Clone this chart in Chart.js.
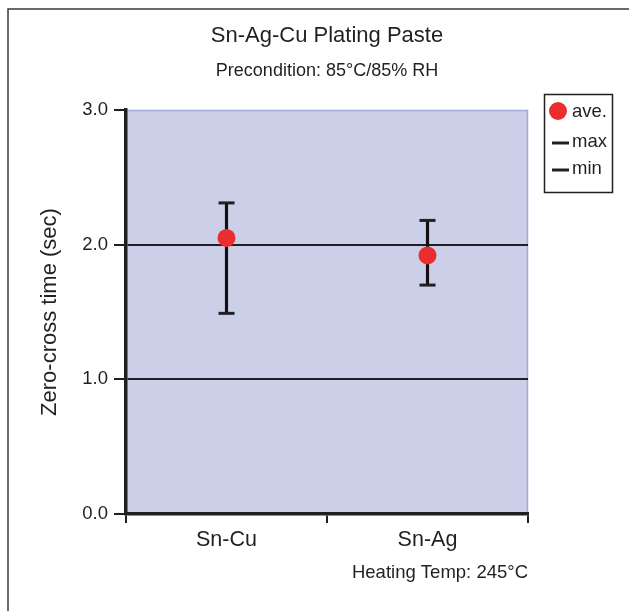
<!DOCTYPE html>
<html>
<head>
<meta charset="utf-8">
<script src="https://cdn.jsdelivr.net/npm/chart.js@4/dist/chart.umd.min.js"></script>
<style>
  html, body { margin: 0; padding: 0; background: #ffffff; }
  #wrap { width: 629px; height: 611px; position: relative; }
</style>
</head>
<body>
<div id="wrap"><canvas id="c" width="629" height="611"></canvas></div>
<script>
// ---- data ----
const categories = ['Sn-Cu', 'Sn-Ag'];
const aveValues = [2.05, 1.92];
const maxValues = [2.31, 2.18];
const minValues = [1.49, 1.70];
const yTickLabels = ['0.0', '1.0', '2.0', '3.0'];
const titleText = 'Sn-Ag-Cu Plating Paste';
const subtitleText = 'Precondition: 85\u00B0C/85% RH';
const yAxisTitle = 'Zero-cross time (sec)';
const xAxisNote = 'Heating Temp: 245\u00B0C';
const legendLabels = ['ave.', 'max', 'min'];

const FONT = "'Liberation Sans', Arial, Helvetica, sans-serif";
const INK = '#231f20';
const RED = '#ec2d30';

const rangeData = categories.map((c, i) => [minValues[i], maxValues[i]]);

const frameAndBg = {
  id: 'frameAndBg',
  beforeDraw(chart) {
    const { ctx, chartArea: a } = chart;
    ctx.save();
    ctx.fillStyle = '#ffffff';
    ctx.fillRect(0, 0, chart.width, chart.height);
    // outer frame (left + top visible)
    ctx.strokeStyle = '#3a3a3a';
    ctx.lineWidth = 1.5;
    ctx.beginPath();
    ctx.moveTo(8, chart.height + 2);
    ctx.lineTo(8, 9);
    ctx.lineTo(chart.width + 2, 9);
    ctx.stroke();
    // plot background
    ctx.fillStyle = '#cbcfe8';
    ctx.fillRect(a.left, a.top, a.right - a.left, a.bottom - a.top);
    ctx.strokeStyle = '#a2a9da';
    ctx.lineWidth = 1.5;
    ctx.beginPath();
    ctx.moveTo(a.left, a.top + 0.5);
    ctx.lineTo(a.right - 0.5, a.top + 0.5);
    ctx.lineTo(a.right - 0.5, a.bottom);
    ctx.stroke();
    ctx.restore();
  }
};

const boxLegend = {
  id: 'boxLegend',
  afterDraw(chart) {
    const { ctx, chartArea: a } = chart;
    const ds = chart.data.datasets;
    const x0 = a.right + 16, y0 = a.top - 16, w = 68, h = 98;
    ctx.save();
    ctx.fillStyle = '#ffffff';
    ctx.fillRect(x0, y0, w, h);
    ctx.strokeStyle = INK;
    ctx.lineWidth = 1.5;
    ctx.strokeRect(x0 + 0.5, y0 + 0.5, w, h);
    ctx.font = '18.5px ' + FONT;
    ctx.fillStyle = INK;
    ctx.textAlign = 'left';
    ctx.textBaseline = 'alphabetic';
    // ave.
    ctx.fillStyle = ds[0].backgroundColor;
    ctx.beginPath();
    ctx.arc(x0 + 14, y0 + 17, 9, 0, Math.PI * 2);
    ctx.fill();
    ctx.fillStyle = INK;
    ctx.fillText(legendLabels[0], x0 + 28, y0 + 23);
    // max / min dashes
    [[ds[2], 49, legendLabels[1]], [ds[3], 76, legendLabels[2]]].forEach(([d, yy, lab]) => {
      ctx.strokeStyle = d.borderColor;
      ctx.lineWidth = 3;
      ctx.beginPath();
      ctx.moveTo(x0 + 8, y0 + yy);
      ctx.lineTo(x0 + 25, y0 + yy);
      ctx.stroke();
      ctx.fillText(lab, x0 + 28, y0 + yy + 4);
    });
    ctx.restore();
  }
};

new Chart(document.getElementById('c'), {
  data: {
    labels: categories,
    datasets: [
      {
        type: 'line', label: legendLabels[0], data: aveValues, showLine: false,
        pointRadius: 9, pointHoverRadius: 9, pointBorderWidth: 0,
        backgroundColor: RED, borderColor: RED, order: 0
      },
      {
        type: 'bar', label: 'range', data: rangeData, barThickness: 2.5,
        backgroundColor: '#111111', borderWidth: 0, order: 3
      },
      {
        type: 'line', label: legendLabels[1], data: maxValues, showLine: false,
        pointStyle: 'line', pointRadius: 8, pointHoverRadius: 8, pointBorderWidth: 3,
        borderColor: INK, backgroundColor: INK, order: 1
      },
      {
        type: 'line', label: legendLabels[2], data: minValues, showLine: false,
        pointStyle: 'line', pointRadius: 8, pointHoverRadius: 8, pointBorderWidth: 3,
        borderColor: INK, backgroundColor: INK, order: 1
      }
    ]
  },
  options: {
    responsive: false,
    animation: false,
    events: [],
    layout: { padding: { top: 0, left: 0, right: 101, bottom: 0 } },
    plugins: {
      legend: { display: false },
      tooltip: { enabled: false },
      title: {
        display: true, text: titleText, fullSize: false, color: INK,
        font: { family: FONT, size: 22, weight: 'normal' },
        padding: { top: 22.8, bottom: 0 }
      },
      subtitle: {
        display: true, text: subtitleText, fullSize: false, color: INK,
        font: { family: FONT, size: 18, weight: 'normal' },
        padding: { top: 11, bottom: 28.2 }
      }
    },
    scales: {
      x: {
        type: 'category',
        offset: true,
        grid: {
          offset: true, drawOnChartArea: false, color: INK, tickColor: INK,
          lineWidth: 2, tickLength: 9
        },
        border: { display: true, color: INK, width: 3.5 },
        ticks: { color: INK, padding: 4, font: { family: FONT, size: 21.5 } },
        title: {
          display: true, text: xAxisNote, align: 'end', color: INK,
          font: { family: FONT, size: 18.5 }, padding: { top: 9, bottom: 27 }
        },
        afterFit(scale) { scale.height = 97; }
      },
      y: {
        type: 'linear', min: 0, max: 3,
        grid: {
          color: (c) => (c.tick && (c.tick.value === 1 || c.tick.value === 2)) ? INK : 'rgba(0,0,0,0)',
          tickColor: INK, lineWidth: 2, tickLength: 12
        },
        border: { display: true, color: INK, width: 3.5 },
        ticks: {
          stepSize: 1, color: INK, padding: 6,
          font: { family: FONT, size: 18.5 },
          callback: (v) => yTickLabels[Math.round(v)]
        },
        title: {
          display: true, text: yAxisTitle, color: INK,
          font: { family: FONT, size: 22 }, padding: { top: 36.8, bottom: 0 }
        },
        afterFit(scale) { scale.width = 126; }
      }
    }
  },
  plugins: [frameAndBg, boxLegend]
});
</script>
</body>
</html>
